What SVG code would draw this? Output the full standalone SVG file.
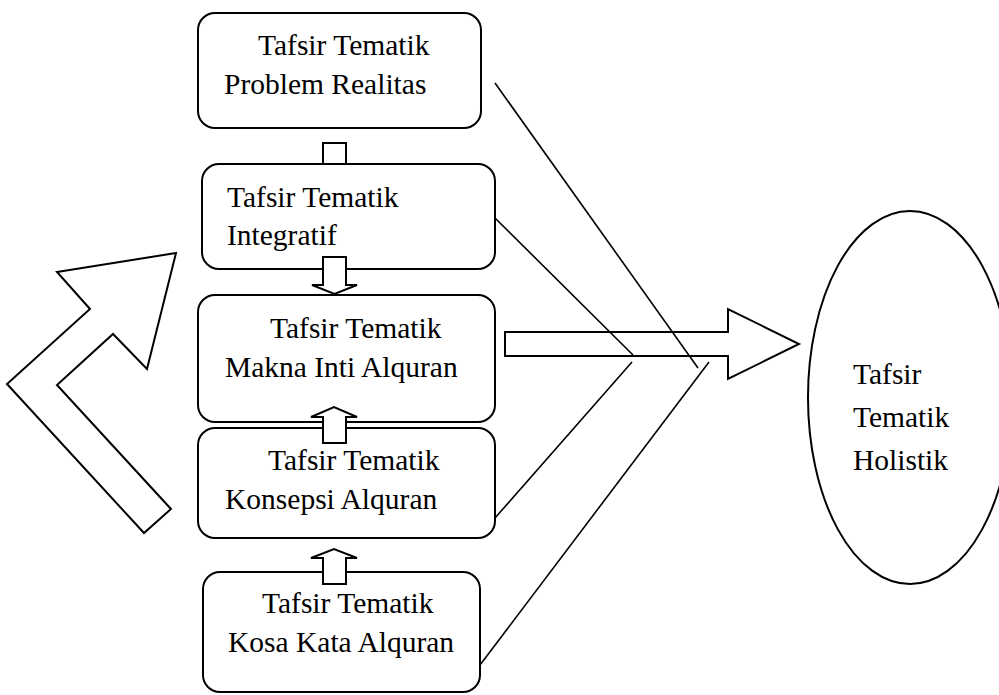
<svg xmlns="http://www.w3.org/2000/svg" width="999" height="695" viewBox="0 0 999 695">
<style>
.box{fill:#fff;stroke:#000;stroke-width:2}
.arr{fill:#fff;stroke:#000;stroke-width:2;stroke-linejoin:miter}
.ln{fill:none;stroke:#000;stroke-width:1.6}
text{font-family:"Liberation Serif","Times New Roman",serif;font-size:29.5px;fill:#000}
</style>
<rect width="999" height="695" fill="#fff"/>
<g id="bent-arrow">
<path class="arr" d="M57,272 L176,253 L147,369 L113,334 L57,385 L171,509 L144,533 L7,384 L90,309 Z"/>
</g>
<g id="connectors">
<path class="arr" d="M505,332 H728 V309 L799,344 L728,379 V356 H505 Z"/>
<path class="ln" d="M495,83 L698,368"/>
<path class="ln" d="M495,218 L633,355"/>
<path class="ln" d="M632,362 L495,518"/>
<path class="ln" d="M709,362 L480,665"/>
<path class="arr" d="M323,164 V143 H346 V164"/>
</g>
<g id="n1">
<rect class="box" x="198" y="13" width="283" height="115" rx="17"/>
<text x="258" y="55">Tafsir Tematik</text>
<text x="224" y="94">Problem Realitas</text>
</g>
<g id="n2">
<rect class="box" x="202" y="164" width="293" height="105" rx="17"/>
<text x="227" y="207">Tafsir Tematik</text>
<text x="227" y="245">Integratif</text>
</g>
<g id="n3">
<rect class="box" x="198" y="295" width="297" height="127" rx="17"/>
<text x="270" y="338">Tafsir Tematik</text>
<text x="225" y="377">Makna Inti Alquran</text>
</g>
<g id="n4">
<rect class="box" x="198" y="428" width="297" height="110" rx="17"/>
<text x="268" y="470">Tafsir Tematik</text>
<text x="225" y="509">Konsepsi Alquran</text>
</g>
<g id="n5">
<rect class="box" x="203" y="572" width="277" height="120" rx="17"/>
<text x="262" y="613">Tafsir Tematik</text>
<text x="228" y="652">Kosa Kata Alquran</text>
</g>
<g id="n6">
<ellipse class="box" cx="910" cy="397.5" rx="102" ry="186.5"/>
<text x="853" y="384">Tafsir</text>
<text x="853" y="427">Tematik</text>
<text x="853" y="470">Holistik</text>
</g>
<g id="small-arrows">
<path class="arr" d="M323,257 H346 V285 H357 L334.5,294 L312,285 H323 Z"/>
<path class="arr" d="M323,443 V417 H311 L334,407 L357,417 H346 V443 Z"/>
<path class="arr" d="M323,584 V558 H311 L334,549 L357,558 H346 V584 Z"/>
</g>
</svg>
